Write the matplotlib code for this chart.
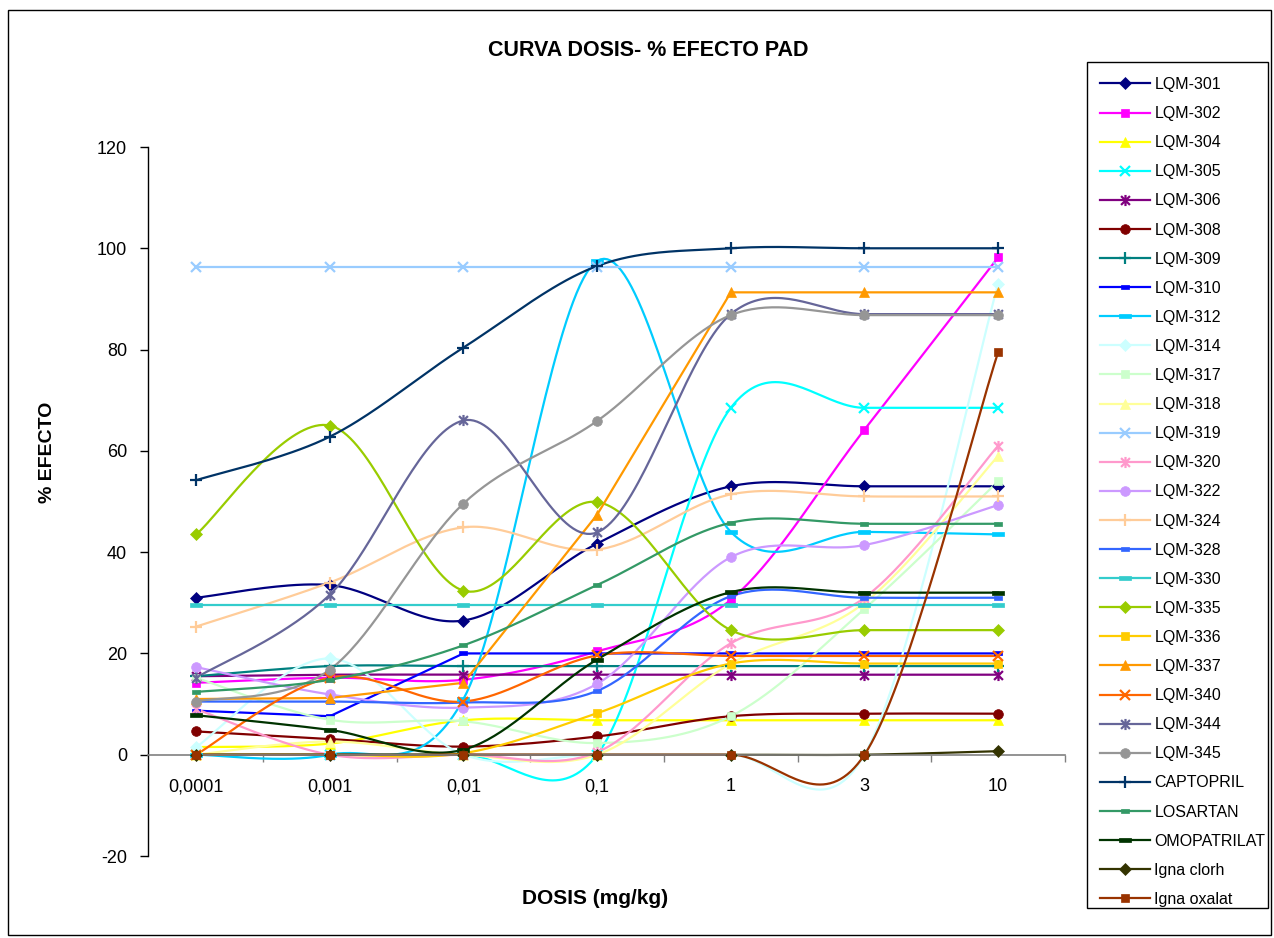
import numpy as np
import matplotlib
matplotlib.use("Agg")
import matplotlib.pyplot as plt
from matplotlib.path import Path
from matplotlib.lines import Line2D
from matplotlib.patches import Rectangle

plt.rcParams['font.family'] = ['Liberation Sans', 'DejaVu Sans']
plt.rcParams['axes.unicode_minus'] = False

doses = ['0,0001', '0,001', '0,01', '0,1', '1', '3', '10']

names = ['LQM-301', 'LQM-302', 'LQM-304', 'LQM-305', 'LQM-306', 'LQM-308', 'LQM-309',
         'LQM-310', 'LQM-312', 'LQM-314', 'LQM-317', 'LQM-318', 'LQM-319', 'LQM-320',
         'LQM-322', 'LQM-324', 'LQM-328', 'LQM-330', 'LQM-335', 'LQM-336', 'LQM-337',
         'LQM-340', 'LQM-344', 'LQM-345', 'CAPTOPRIL', 'LOSARTAN', 'OMOPATRILAT',
         'Igna clorh', 'Igna oxalat']

lqm301 = [31, 33.5, 26.5, 41.7, 53, 53, 53]
lqm302 = [14.2, 15.2, 14.8, 20.4, 30.6, 64.2, 98.2]
lqm304 = [1.5, 2.2, 6.8, 6.8, 6.8, 6.8, 6.8]
lqm305 = [0, 0, 0, 0, 68.5, 68.5, 68.5]
lqm306 = [15.5, 15.8, 15.8, 15.8, 15.8, 15.8, 15.8]
lqm308 = [4.6, 3.1, 1.6, 3.6, 7.6, 8.1, 8.1]
lqm309 = [15.5, 17.5, 17.5, 17.5, 17.5, 17.5, 17.5]
lqm310 = [8.7, 7.6, 20, 20, 20, 20, 20]
lqm312 = [0, 0, 11, 97.5, 44, 44, 43.5]
lqm314 = [1.5, 19, 0, 0, 0, 0, 93]
lqm317 = [15.2, 6.9, 6.6, 2.3, 7.6, 28.8, 54]
lqm318 = [0, 2.6, 0, 0, 18, 30, 59]
lqm319 = [96.3, 96.3, 96.3, 96.3, 96.3, 96.3, 96.3]
lqm320 = [9, 0, 0, 0.5, 22, 31, 61]
lqm322 = [17.3, 11.9, 9.3, 14, 39, 41.4, 49.3]
lqm324 = [25.3, 34, 44.9, 40.5, 51.4, 51, 51]
lqm328 = [10.5, 10.5, 10.3, 12.6, 31.3, 31, 31]
lqm330 = [29.5, 29.5, 29.5, 29.5, 29.5, 29.5, 29.5]
lqm335 = [43.5, 65, 32.4, 49.9, 24.6, 24.6, 24.6]
lqm336 = [0, 0, 0.3, 8.2, 18, 18, 18]
lqm337 = [11, 11.2, 14.2, 47.4, 91.3, 91.3, 91.3]
lqm340 = [0, 15.2, 10.5, 19.6, 19.5, 19.5, 19.5]
lqm344 = [15.2, 31.6, 66, 43.9, 87, 87, 87]
lqm345 = [10.5, 16.8, 49.6, 65.9, 86.8, 86.8, 86.8]
captopril = [54.2, 62.8, 80.4, 96.5, 100, 100, 100]
losartan = [12.4, 14.8, 21.6, 33.5, 45.8, 45.6, 45.6]
omopatrilat = [7.8, 4.9, 1, 18.8, 32.1, 32, 32]
igna_clorh = [0, 0, 0, 0, 0, 0, 0.7]
igna_oxalat = [0, 0, 0, 0, 0, 0, 79.5]

series = [lqm301, lqm302, lqm304, lqm305, lqm306, lqm308, lqm309, lqm310, lqm312,
          lqm314, lqm317, lqm318, lqm319, lqm320, lqm322, lqm324, lqm328, lqm330,
          lqm335, lqm336, lqm337, lqm340, lqm344, lqm345, captopril, losartan,
          omopatrilat, igna_clorh, igna_oxalat]

colors = ['#000080', '#FF00FF', '#FFFF00', '#00FFFF', '#800080', '#800000', '#008080',
          '#0000FF', '#00CCFF', '#CCFFFF', '#CCFFCC', '#FFFF99', '#99CCFF', '#FF99CC',
          '#CC99FF', '#FFCC99', '#3366FF', '#33CCCC', '#99CC00', '#FFCC00', '#FF9900',
          '#FF6600', '#666699', '#969696', '#003366', '#339966', '#003300', '#333300',
          '#993300']

# series drawn with straight segments (not smoothed) in the original
straight = {'LQM-310', 'LQM-337'}

ast_path = Path([(-1, -1), (1, 1), (-1, 1), (1, -1), (0, -1.25), (0, 1.25)],
                [Path.MOVETO, Path.LINETO, Path.MOVETO, Path.LINETO, Path.MOVETO, Path.LINETO])
short_dash = Path([(-1, -0.45), (1, -0.45), (1, 0.45), (-1, 0.45), (-1, -0.45)],
                  [Path.MOVETO, Path.LINETO, Path.LINETO, Path.LINETO, Path.CLOSEPOLY])
long_dash = Path([(-1, -0.35), (1, -0.35), (1, 0.35), (-1, 0.35), (-1, -0.35)],
                 [Path.MOVETO, Path.LINETO, Path.LINETO, Path.LINETO, Path.CLOSEPOLY])

mstyles = {
    'D': dict(marker='D', markersize=6.5, mew=0.5),
    's': dict(marker='s', markersize=6, mew=0.5),
    '^': dict(marker='^', markersize=7.5, mew=0.5),
    'x': dict(marker='x', markersize=7.5, mew=1.6, mfc='none'),
    '*': dict(marker=ast_path, markersize=8, mew=1.6, mfc='none'),
    'o': dict(marker='o', markersize=7, mew=0.5),
    '+': dict(marker='+', markersize=9, mew=1.6),
    'sd': dict(marker=short_dash, markersize=6, mew=0.5),
    'ld': dict(marker=long_dash, markersize=9, mew=0.5),
}
cycle = ['D', 's', '^', 'x', '*', 'o', '+', 'sd', 'ld']
markers = [cycle[i % 9] for i in range(len(series))]
markers[24] = '+'
markers[25] = 'sd'
markers[26] = 'ld'
markers[27] = 'D'
markers[28] = 's'


def excel_smooth(xs, ys, n=40):
    pts = np.column_stack([xs, ys]).astype(float)
    N = len(pts)
    out = []
    t = np.linspace(0, 1, n)[:, None]
    for i in range(N - 1):
        p0 = pts[i - 1] if i > 0 else pts[i]
        p1 = pts[i]
        p2 = pts[i + 1]
        p3 = pts[i + 2] if i + 2 < N else pts[i + 1]
        c1 = p1 + (p2 - p0) / 6.0
        c2 = p2 - (p3 - p1) / 6.0
        seg = (1 - t) ** 3 * p1 + 3 * (1 - t) ** 2 * t * c1 + 3 * (1 - t) * t ** 2 * c2 + t ** 3 * p2
        out.append(seg if i == 0 else seg[1:])
    return np.vstack(out)


W, H = 1274, 938
fig = plt.figure(figsize=(W / 100, H / 100), dpi=100)
ax = fig.add_axes([148 / W, (H - 856) / H, (1065 - 148) / W, (856 - 147) / H])

x = np.arange(len(doses))
handles = []
for name, ys, col, mk in zip(names, series, colors, markers):
    if name in straight:
        ax.plot(x, ys, color=col, lw=1.6, zorder=2)
    else:
        sm = excel_smooth(x, ys)
        ax.plot(sm[:, 0], sm[:, 1], color=col, lw=1.6, zorder=2)
    st = dict(mstyles[mk])
    mfc = st.pop('mfc', col)
    ax.plot(x, ys, linestyle='none', color=col, mfc=mfc, mec=col, zorder=3, **st)
    handles.append(Line2D([], [], color=col, lw=1.6, mfc=mfc, mec=col, **st))

ax.set_xlim(-0.36, 6.5)
ax.set_ylim(-20, 120)
ax.set_yticks(np.arange(-20, 121, 20))
ax.set_xticks(x)
ax.set_xticklabels(doses)
ax.set_xticks(np.arange(0.5, 7, 1), minor=True)
ax.tick_params(axis='x', which='major', length=0, pad=17, labelsize=13)
ax.tick_params(axis='x', which='minor', length=5, direction='out', color='#808080', width=1)
ax.tick_params(axis='y', which='major', length=6, direction='out', pad=9, labelsize=13, width=1)
for s in ['top', 'right']:
    ax.spines[s].set_visible(False)
ax.spines['bottom'].set_position(('data', 0))
ax.spines['bottom'].set_color('#808080')
ax.spines['bottom'].set_linewidth(1.2)
ax.spines['left'].set_color('#000000')
ax.spines['left'].set_linewidth(1.0)
ax.set_facecolor('none')

fig.text(648 / W, 1 - 50 / H, 'CURVA DOSIS- % EFECTO PAD', ha='center', va='center',
         fontsize=15.5, fontweight='bold')
fig.text(595 / W, 1 - 898 / H, 'DOSIS (mg/kg)', ha='center', va='center',
         fontsize=15, fontweight='bold')
fig.text(47 / W, 1 - 452 / H, '% EFECTO', ha='center', va='center', rotation=90,
         fontsize=14, fontweight='bold')

leg = fig.legend(handles, names, loc='upper left', bbox_to_anchor=(1100 / W, 1 - 77 / H),
                 bbox_transform=fig.transFigure, frameon=False, fontsize=11.5,
                 handlelength=3.1, handletextpad=0.3, labelspacing=0.883,
                 borderpad=0, borderaxespad=0)

fig.patches.append(Rectangle((1087 / W, (H - 908) / H), (1268 - 1087) / W, (908 - 62) / H,
                             transform=fig.transFigure, fill=False, edgecolor='black',
                             linewidth=1.0))
fig.patches.append(Rectangle((8 / W, 3 / H), (1271 - 8) / W, (935 - 10) / H,
                             transform=fig.transFigure, fill=False, edgecolor='black',
                             linewidth=1.0))

fig.savefig('out.png', dpi=100)
